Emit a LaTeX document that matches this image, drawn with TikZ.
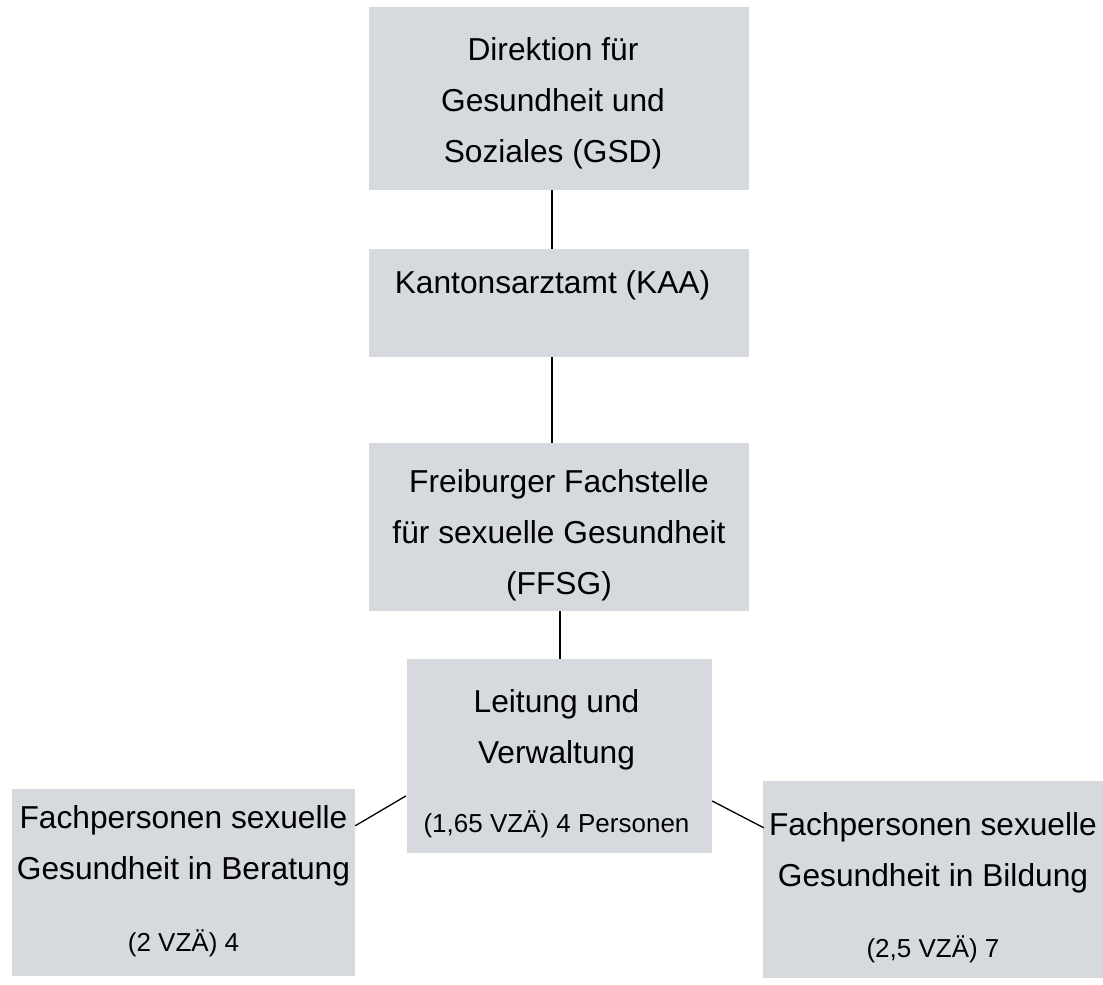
\documentclass[tikz,border=0pt]{standalone}
\usepackage{fontspec}
\setmainfont{Liberation Sans}
\definecolor{boxgray}{RGB}{214,218,222}
\begin{document}
\begin{tikzpicture}[x=1pt,y=-1pt,
  box/.style={fill=boxgray, draw=none, inner sep=0pt},
  txt/.style={align=center, inner sep=0pt, font=\fontsize{31.7}{51}\selectfont},
  conn/.style={line width=1.3pt, black}]
\newcommand{\smalltxt}{\fontsize{26}{51}\selectfont}
\useasboundingbox (0,0) rectangle (1103,985);
% boxes
\node[box, minimum width=380pt, minimum height=183pt] (dir) at (559,98.5) {};
\node[box, minimum width=380pt, minimum height=108pt] (kaa) at (559,303) {};
\node[box, minimum width=380pt, minimum height=168pt] (ffsg) at (559,527) {};
\node[box, minimum width=305pt, minimum height=194pt] (lv) at (559.5,756) {};
\node[box, minimum width=343pt, minimum height=187pt] (lft) at (183.5,882.5) {};
\node[box, minimum width=340pt, minimum height=197pt] (rgt) at (933,879.5) {};
% texts
\node[txt] (dirT) at ([xshift=-6pt, yshift=-5pt]dir.center) {Direktion für\\Gesundheit und\\Soziales (GSD)};
\node[txt] (kaaT) at ([xshift=-6.5pt, yshift=18pt]kaa.center) {Kantonsarztamt (KAA)};
\node[txt] (ffsgT) at ([yshift=-8.5pt]ffsg.center) {Freiburger Fachstelle\\für sexuelle Gesundheit\\(FFSG)};
\node[txt] (lvT) at ([xshift=-3pt, yshift=-7.5pt]lv.center) {Leitung und\\Verwaltung\\[17.5pt]{\smalltxt (1,65 VZÄ) 4 Personen}};
\node[txt] (lftT) at ([yshift=1.3pt]lft.center) {Fachpersonen sexuelle\\Gesundheit in Beratung\\[20.5pt]{\smalltxt (2 VZÄ) 4}};
\node[txt] (rgtT) at ([yshift=-8.2pt]rgt.center) {Fachpersonen sexuelle\\Gesundheit in Bildung\\[19.5pt]{\smalltxt (2,5 VZÄ) 7}};
% connectors
\draw[conn] ([xshift=-7pt]dir.south) -- ([xshift=-7pt]kaa.north);
\draw[conn] ([xshift=-7pt]kaa.south) -- ([xshift=-7pt]ffsg.north);
\draw[conn] ([xshift=1pt]ffsg.south) -- ([xshift=0.5pt]lv.north);
\draw[conn] ([xshift=-1pt, yshift=-40pt]lv.west) -- ([yshift=-37pt]lft.north east);
\draw[conn] ([yshift=-45pt]lv.east) -- ([xshift=1pt, yshift=-47pt]rgt.north west);
\end{tikzpicture}
\end{document}
